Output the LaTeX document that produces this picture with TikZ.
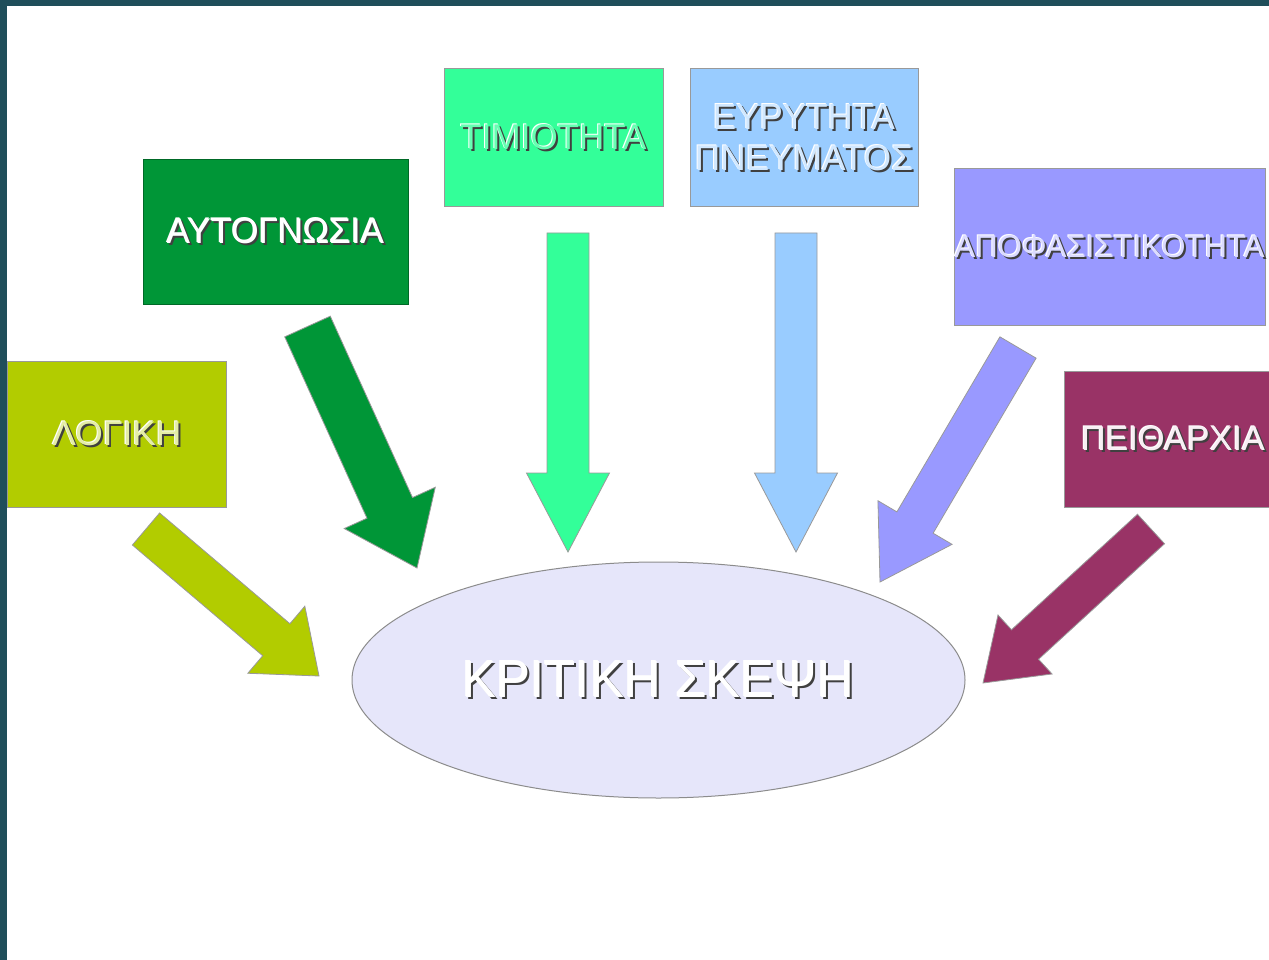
\documentclass[tikz,border=0pt]{standalone}
\usepackage{fontspec}
\setmainfont{Liberation Sans}
\usepackage{graphicx}
\usetikzlibrary{calc,shapes.geometric}
\definecolor{teal0}{RGB}{31,78,90}
\definecolor{cLog}{RGB}{178,204,0}
\definecolor{cAut}{RGB}{0,150,55}
\definecolor{cTim}{RGB}{51,255,153}
\definecolor{cEyr}{RGB}{153,204,255}
\definecolor{cApo}{RGB}{153,153,255}
\definecolor{cPei}{RGB}{153,51,102}
\definecolor{cLav}{RGB}{230,230,250}
\newcommand\embtext[4]{%
  \def\embT{\resizebox{#2pt}{#3pt}{#4}}%
  \rlap{\hspace{2pt}\raisebox{-2pt}{\color{black!75}\embT}}%
  \rlap{\hspace{-1pt}\raisebox{1pt}{\color{white}\embT}}%
  {\color{#1}\embT}}
\newcommand\blockarr[6]{%
  \path ($(#2)!#5pt!(#1)$) coordinate (hb);
  \draw[arrowline, fill=#6] ($(#1)!#3pt!90:(#2)$) -- ($(hb)!#3pt!90:(#2)$)
    -- ($(hb)!#4pt!90:(#2)$) -- (#2) -- ($(hb)!#4pt!-90:(#2)$)
    -- ($(hb)!#3pt!-90:(#2)$) -- ($(#1)!#3pt!-90:(#2)$) -- cycle;}
\tikzset{
  box/.style={rectangle, draw=black!40, line width=1pt, inner sep=0pt, align=center},
  arrowline/.style={draw=black!40, line width=0.8pt, line join=miter},
}
\begin{document}
\begin{tikzpicture}[x=1pt, y=-1pt]
\useasboundingbox (0,0) rectangle (1269,960);
\fill[white] (0,0) rectangle (1269,960);
\fill[teal0] (0,0) rectangle (1269,6);
\fill[teal0] (0,0) rectangle (7,960);

% boxes
\node[box, fill=cLog, minimum width=219pt, minimum height=146pt] (logiki) at (117,434)
  {\embtext{cLog!35!white}{129}{24}{ΛΟΓΙΚΗ}};
\node[box, fill=cAut, draw=cAut!70!black, minimum width=265pt, minimum height=144pt] (autog) at (275.5,232)
  {\embtext{white}{217}{25}{ΑΥΤΟΓΝΩΣΙΑ}};
\node[box, fill=cTim, minimum width=219pt, minimum height=138pt] (timiot) at (553.5,138)
  {\embtext{cTim!75!white}{186}{25}{ΤΙΜΙΟΤΗΤΑ}};
\node[box, fill=cEyr, minimum width=228pt, minimum height=138pt] (eyryt) at (804,138)
  {\embtext{cEyr!45!white}{182}{25}{ΕΥΡΥΤΗΤΑ}\\[12pt]\embtext{cEyr!45!white}{218}{25}{ΠΝΕΥΜΑΤΟΣ}};
\node[box, fill=cApo, minimum width=311pt, minimum height=156pt] (apofas) at (1109.5,247)
  {\embtext{cApo!35!white}{310}{22}{ΑΠΟΦΑΣΙΣΤΙΚΟΤΗΤΑ}};
\node[box, fill=cPei, minimum width=218pt, minimum height=136pt] (peith) at (1173,439)
  {\embtext{white!92!cPei}{184}{24}{ΠΕΙΘΑΡΧΙΑ}};

% central ellipse
\node[ellipse, fill=cLav, draw=black!45, line width=1pt, minimum width=613pt, minimum height=236pt, inner sep=0pt] (kritiki) at (658.5,680)
  {\embtext{white}{392}{36}{ΚΡΙΤΙΚΗ ΣΚΕΨΗ}};

% arrow end points
\coordinate (t1) at (146,529);   \coordinate (p1) at (319,676);
\coordinate (t2) at (307.5,326.5); \coordinate (p2) at (417,568);
\coordinate (t3) at (568,233);   \coordinate (p3) at (568,552);
\coordinate (t4) at (796,233);   \coordinate (p4) at (796,552);
\coordinate (t5) at (1018,347.5); \coordinate (p5) at (880,582);
\coordinate (t6) at (1151,529);  \coordinate (p6) at (983,683);

\blockarr{t1}{p1}{21}{44}{56}{cLog}
\blockarr{t2}{p2}{25}{50}{66}{cAut}
\blockarr{t3}{p3}{21}{41.5}{79}{cTim}
\blockarr{t4}{p4}{21}{41.5}{79}{cEyr}
\blockarr{t5}{p5}{21}{43}{69}{cApo}
\blockarr{t6}{p6}{20}{40}{57}{cPei}
\end{tikzpicture}
\end{document}
